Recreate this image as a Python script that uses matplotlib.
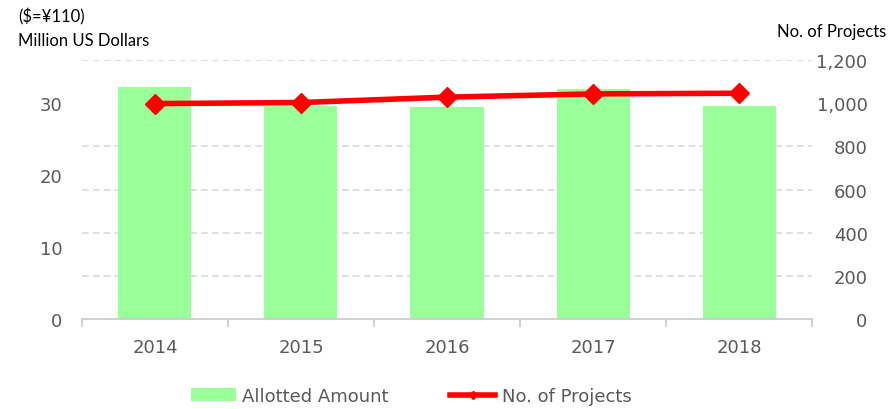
"""Allotted amount (bars) and number of projects (line), 2014-2018."""

import matplotlib
matplotlib.use("Agg")
import matplotlib.pyplot as plt
from matplotlib.lines import Line2D
from matplotlib.patches import Patch

years = ["2014", "2015", "2016", "2017", "2018"]
allotted_musd = [32.2, 29.6, 29.4, 32.0, 29.6]
num_projects = [998, 1003, 1028, 1043, 1046]

GREEN = "#99ff99"
RED = "#ff0000"
GRAY_TXT = "#595959"
GRID = "#d9d9d9"

plt.rcParams["font.family"] = ["DejaVu Sans"]

fig = plt.figure(figsize=(8.9, 4.1), dpi=100)
ax = fig.add_axes([0.0921, 0.2195, 0.8203, 0.6317])
ax2 = ax.twinx()

x = range(len(years))
ax.bar(x, allotted_musd, width=0.5, color=GREEN, zorder=2)
ax2.plot(x, num_projects, color=RED, lw=4, marker="D", ms=10, zorder=3)

ax.set_xlim(-0.5, len(years) - 0.5)
ax.set_ylim(0, 36)
ax2.set_ylim(0, 1200)
ax.set_yticks([0, 10, 20, 30])
ax2.set_yticks(range(0, 1201, 200))
ax2.set_yticklabels([f"{v:,}" for v in range(0, 1201, 200)])

# dashed gridlines sit at the right-axis steps (every 6 on the left scale)
ax.set_yticks(range(6, 37, 6), minor=True)
ax.tick_params(axis="y", which="minor", length=0)
ax.grid(axis="y", which="minor", color=GRID, ls=(0, (4, 2.5)), lw=1.2, zorder=0)
ax.set_axisbelow(True)

for a in (ax, ax2):
    for side in ("top", "left", "right"):
        a.spines[side].set_visible(False)
ax2.spines["bottom"].set_visible(False)
ax.spines["bottom"].set_color("#c8c8c8")
ax.spines["bottom"].set_linewidth(1.2)

ax.set_xticks([i - 0.5 for i in range(len(years) + 1)])
ax.set_xticklabels([])
ax.tick_params(axis="x", length=6, color="#c8c8c8", width=1.2)
ax.set_xticks(list(x), minor=True)
ax.set_xticklabels(years, minor=True)
ax.tick_params(axis="x", which="minor", length=0, pad=14, labelsize=13, labelcolor=GRAY_TXT)

ax.tick_params(axis="y", length=0, pad=14, labelsize=13, labelcolor=GRAY_TXT)
ax2.tick_params(axis="y", length=0, pad=40, labelsize=13, labelcolor=GRAY_TXT)
for lbl in ax2.get_yticklabels():
    lbl.set_horizontalalignment("right")

lato = ["Lato", "DejaVu Sans"]
fig.text(18 / 890, 1 - 17 / 410, "($=¥110)", fontsize=12, va="center", ha="left", family=lato)
fig.text(18 / 890, 1 - 41 / 410, "Million US Dollars", fontsize=12, va="center", ha="left",
         family=lato)
fig.text(886 / 890, 1 - 32 / 410, "No. of Projects", fontsize=12, va="center", ha="right",
         family=lato)

handles = [
    Patch(facecolor=GREEN, edgecolor="none"),
    Line2D([], [], color=RED, lw=4, marker="D", ms=4),
]
fig.legend(handles, ["Allotted Amount", "No. of Projects"], loc="center",
           bbox_to_anchor=(411 / 890, 1 - 397 / 410), ncol=2, frameon=False,
           fontsize=13, labelcolor=GRAY_TXT, columnspacing=3.4,
           handlelength=2.5, handletextpad=0.35)

fig.savefig("out.png", dpi=100)
plt.close(fig)
